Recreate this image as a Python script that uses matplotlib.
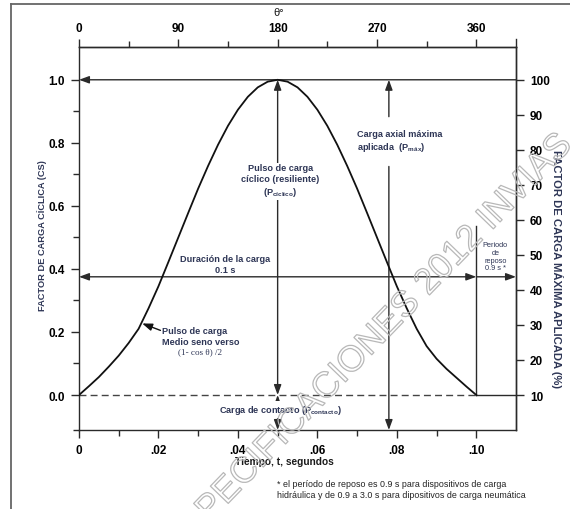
import numpy as np
import matplotlib
matplotlib.use("Agg")
import matplotlib.pyplot as plt
from matplotlib.lines import Line2D
from matplotlib import patheffects as pe
from matplotlib.ticker import FixedLocator

plt.rcParams['font.family'] = ['Liberation Sans', 'DejaVu Sans']
plt.rcParams['mathtext.fontset'] = 'custom'
plt.rcParams['mathtext.rm'] = 'Liberation Sans:bold'
plt.rcParams['mathtext.it'] = 'Liberation Sans:bold'
plt.rcParams['mathtext.bf'] = 'Liberation Sans:bold'

# ---------------- data ----------------
time_s = [0, .0025, .005, .0075, .01, .0125, .015, .0175, .02, .0225, .025,
          .0275, .03, .0325, .035, .0375, .04, .0425, .045, .0475, .05,
          .0525, .055, .0575, .06, .0625, .065, .0675, .07, .0725, .075,
          .0775, .08, .0825, .085, .0875, .09, .0925, .095, .0975, .1]
load_factor = [0, .028, .057, .09, .125, .165, .21, .275, .345, .422, .5,
               .578, .655, .727, .794, .854, .905, .946, .976, .994, 1.0,
               .994, .976, .946, .905, .854, .794, .727, .655, .578, .5,
               .422, .345, .275, .21, .155, .115, .083, .055, .027, 0]

x_ticks = [0, .02, .04, .06, .08, .10]
x_ticklabels = ['0', '.02', '.04', '.06', '.08', '.10']
y_ticks = [0.0, 0.2, 0.4, 0.6, 0.8, 1.0]
theta_ticks = [0, 90, 180, 270, 360]
right_ticks = [0, 10, 20, 30, 40, 50, 60, 70, 80, 90, 100]

pulse_duration = 0.10     # s
peak_level = 1.0
contact_level = 0.0
duration_level = 0.375
t_peak = 0.05
t_pmax = 0.078
rest_top = 0.536
x_max = 0.11
y_min, y_max = -0.111, 1.104

LC = '#2a2a2a'
NAVY = '#2e3656'

fig = plt.figure(figsize=(5.7, 5.1), dpi=100)
W, H = 570, 510
ax = fig.add_axes([79 / W, (H - 431) / H, (516 - 79) / W, (431 - 48) / H])
ax.set_xlim(0, x_max)
ax.set_ylim(y_min, y_max)

for s in ax.spines.values():
    s.set_linewidth(1.0)
    s.set_color(LC)

# ticks
ax.set_xticks(x_ticks)
ax.set_xticklabels(x_ticklabels)
ax.xaxis.set_minor_locator(FixedLocator([.01, .03, .05, .07, .09]))
ax.set_yticks(y_ticks)
ax.set_yticklabels([f'{v:.1f}' for v in y_ticks])
ax.yaxis.set_minor_locator(FixedLocator([y_min, 0.1, 0.3, 0.5, 0.7, 0.9]))
ax.tick_params(axis='both', which='major', direction='out', length=6, width=1.0,
               color=LC, labelsize=8.5, pad=4)
ax.tick_params(axis='both', which='minor', direction='out', length=4, width=1.0, color=LC)
for lab in ax.get_xticklabels() + ax.get_yticklabels():
    lab.set_fontweight('bold')

# top theta axis
sec_x = ax.secondary_xaxis('top', functions=(lambda t: t * 3600, lambda th: th / 3600))
sec_x.set_xticks(theta_ticks)
sec_x.xaxis.set_minor_locator(FixedLocator([45, 135, 225, 315]))
sec_x.tick_params(which='major', direction='out', length=6, width=1.0, color=LC,
                  labelsize=8.5, pad=3)
sec_x.tick_params(which='minor', direction='out', length=4, width=1.0, color=LC)
for lab in sec_x.get_xticklabels():
    lab.set_fontweight('bold')
sec_x.spines['top'].set_linewidth(1.0)
sec_x.spines['top'].set_color(LC)

# right axis
sec_y = ax.secondary_yaxis('right', functions=(lambda y: 10 + 90 * y, lambda r: (r - 10) / 90))
sec_y.set_yticks(right_ticks)
sec_y.tick_params(which='major', direction='out', length=6, width=1.0, color=LC,
                  labelsize=8.5, pad=4)
for lab in sec_y.get_yticklabels():
    lab.set_fontweight('bold')
sec_y.spines['right'].set_linewidth(1.0)
sec_y.spines['right'].set_color(LC)
ax.add_line(Line2D([1, 1], [1, 1.022], transform=ax.transAxes, color=LC, lw=1.0, clip_on=False))

# ---------------- curve and guide lines ----------------
ax.plot(time_s, load_factor, color='#111111', lw=1.3, zorder=4, solid_joinstyle='round')
ax.plot([0, pulse_duration], [contact_level, contact_level], color='#444444', lw=1.0,
        ls=(0, (5, 3)))
ax.plot([pulse_duration, x_max], [contact_level, contact_level], color=LC, lw=1.0)
ax.plot([pulse_duration, pulse_duration], [contact_level, rest_top], color=LC, lw=1.0)

def arrow(tail, head, style='-|>'):
    ax.annotate('', xy=head, xytext=tail, annotation_clip=False,
                arrowprops=dict(arrowstyle=style + ',head_length=0.6,head_width=0.22',
                                color=LC, lw=1.0, shrinkA=0, shrinkB=0, mutation_scale=10))

arrow((x_max, peak_level), (0, peak_level))
arrow((t_peak, contact_level), (t_peak, peak_level), '<|-|>')
arrow((t_pmax, 0.883), (t_pmax, peak_level))
arrow((t_pmax, 0.725), (t_pmax, y_min))
arrow((0, duration_level), (pulse_duration, duration_level), '<|-|>')
arrow((pulse_duration, duration_level), (x_max, duration_level))
arrow((t_peak, y_min), (t_peak, contact_level), '<|-|>')

# ---------------- annotations ----------------
wb = dict(facecolor='white', edgecolor='none', pad=1.5)
ax.text(t_peak + 0.0007, 0.68, 'Pulso de carga\ncíclico (resiliente)\n(P$_{\\mathregular{cíclico}}$)',
        ha='center', va='center', fontsize=6.6, fontweight='bold', color=NAVY,
        bbox=wb, linespacing=1.25, zorder=5)
ax.text(0.0700, 0.806, 'Carga axial máxima\naplicada  (P$_{\\mathregular{máx}}$)',
        ha='left', va='center', fontsize=6.6, fontweight='bold', color=NAVY,
        linespacing=1.3, zorder=5)
ax.text(0.0368, 0.415, 'Duración de la carga\n0.1 s', ha='center', va='center',
        fontsize=6.6, fontweight='bold', color=NAVY, linespacing=1.2, zorder=5)
ax.text(0.1048, 0.44, 'Periodo\nde\nreposo\n0.9 s *', ha='center', va='center',
        fontsize=5.3, color=NAVY, linespacing=1.15, zorder=5)
ax.text(0.0209, 0.186, 'Pulso de carga\nMedio seno verso', ha='left', va='center',
        fontsize=6.6, fontweight='bold', color=NAVY, linespacing=1.3, zorder=5)
ax.text(0.0250, 0.140, '(1- cos θ) /2', ha='left', va='center',
        fontsize=6.6, color=NAVY, family=['Liberation Serif', 'DejaVu Serif'], zorder=5)
ax.annotate('', xy=(0.0159, 0.227), xytext=(0.0205, 0.205),
            arrowprops=dict(arrowstyle='-|>,head_length=0.6,head_width=0.22', color='#111111',
                            lw=1.0, shrinkA=0, shrinkB=0, mutation_scale=10))
ax.text(t_peak + 0.0006, -0.047, 'Carga de contacto (P$_{\\mathregular{contacto}}$)',
        ha='center', va='center', fontsize=6.6, fontweight='bold', color=NAVY,
        bbox=wb, zorder=5)

# axis labels
fig.text(284 / W, 1 - 462 / H, 'Tiempo, t, segundos', ha='center', va='center',
         fontsize=7.3, fontweight='bold', color='#1a1a1a')
fig.text(279 / W, 1 - 13 / H, 'θ°', ha='center', va='center', fontsize=8, color='#1a1a1a')
fig.text(42 / W, 1 - 236 / H, 'FACTOR DE CARGA CÍCLICA (CS)', rotation=90,
         ha='center', va='center', fontsize=6.7, fontweight='bold', color=NAVY)
fig.text(557 / W, 1 - 269 / H, 'FACTOR DE CARGA MÁXIMA APLICADA (%)', rotation=-90,
         ha='center', va='center', fontsize=8.1, fontweight='bold', color=NAVY)
fig.text(277 / W, 1 - 490 / H,
         '* el período de reposo es 0.9 s para dispositivos de carga\n'
         'hidráulica y de 0.9 a 3.0 s para dipositivos de carga neumática',
         ha='left', va='center', fontsize=6.4, color='#222222', linespacing=1.25)

# watermark (outlined, as in the source document)
fig.text(368 / W, 1 - 346 / H, 'ESPECIFICACIONES 2012 INVIAS', rotation=46,
         ha='center', va='center', fontsize=26, color=(1, 1, 1, 0),
         rotation_mode='anchor',
         path_effects=[pe.Stroke(linewidth=0.9, foreground='#b8b8b8')])

# page frame
fig.add_artist(Line2D([11 / W, 11 / W], [0, 1 - 5 / H], transform=fig.transFigure,
                      color='#666666', lw=1.3))
fig.add_artist(Line2D([11 / W, 1], [1 - 5 / H, 1 - 5 / H], transform=fig.transFigure,
                      color='#666666', lw=1.3))

fig.savefig('out.png', dpi=100)
